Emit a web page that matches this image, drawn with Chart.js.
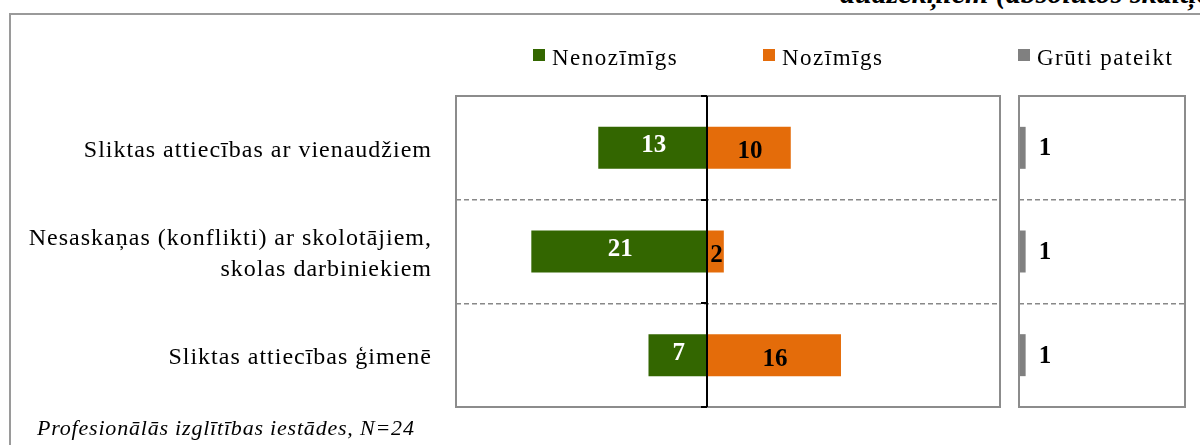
<!DOCTYPE html>
<html>
<head>
<meta charset="utf-8">
<script src="https://cdn.jsdelivr.net/npm/chart.js@4"></script>
<style>
  body { margin:0; width:1200px; height:445px; overflow:hidden; background:#fff; position:relative;
         font-family:"Liberation Serif","Times New Roman",serif; color:#000; }
  #frame { position:absolute; left:9px; top:13px; width:1300px; height:500px;
           border-top:2px solid #9a9a9a; border-left:2px solid #9a9a9a; }
  #title { position:absolute; left:840px; top:-24px; font:bold italic 30px "Liberation Serif"; white-space:nowrap; }
  .legbox { position:absolute; top:49px; width:12px; height:12px; }
  .legtxt { position:absolute; top:46px; font-size:23px; line-height:1; letter-spacing:1.5px; white-space:nowrap; }
  #note { position:absolute; left:37px; top:417px; font-style:italic; font-size:22px; line-height:1;
          letter-spacing:0.8px; white-space:nowrap; }
  #c1 { position:absolute; left:0; top:0; }
  #c2 { position:absolute; left:1005px; top:0; }
</style>
</head>
<body>
<div id="frame"></div>
<div id="title">audzēkņiem (absolūtos skaitļos)</div>
<canvas id="c1" width="1005" height="445"></canvas>
<canvas id="c2" width="195" height="445"></canvas>
<div id="legend"></div>
<div id="note">Profesionālās izglītības iestādes, N=24</div>
<script>
// data
const categories = [
  'Sliktas attiecības ar vienaudžiem',
  ['Nesaskaņas (konflikti) ar skolotājiem,', 'skolas darbiniekiem'],
  'Sliktas attiecības ģimenē'
];
const nenozimigs = [13, 21, 7];
const nozimigs = [10, 2, 16];
const gruti = [1, 1, 1];

const GREEN = '#336600', ORANGE = '#E46C0A', GREY = '#808080', LINE = '#8c8c8c';

// frame, zero line and value labels
const panelPlugin = {
  id: 'panel',
  beforeDraw(chart) {
    chart.ctx.letterSpacing = '1px';
  },
  afterDatasetsDraw(chart, args, opts) {
    const ctx = chart.ctx, a = chart.chartArea;
    ctx.save();
    ctx.strokeStyle = LINE;
    ctx.lineWidth = 2;
    ctx.strokeRect(a.left, a.top, a.right - a.left, a.bottom - a.top);
    if (opts.zero) {
      const x0 = Math.round(chart.scales.x.getPixelForValue(0));
      ctx.strokeStyle = '#000';
      ctx.lineWidth = 2;
      ctx.beginPath();
      ctx.moveTo(x0, a.top); ctx.lineTo(x0, a.bottom);
      const n = chart.data.labels.length;
      for (let i = 0; i <= n; i++) {
        const y = Math.round(chart.scales.y.getPixelForValue(i - 0.5));
        ctx.moveTo(x0 - 6, y); ctx.lineTo(x0, y);
      }
      ctx.stroke();
    }
    ctx.font = 'bold 25px "Liberation Serif"';
    ctx.letterSpacing = '0px';
    ctx.textBaseline = 'middle';
    chart.data.datasets.forEach((ds, i) => {
      chart.getDatasetMeta(i).data.forEach((bar, j) => {
        const v = Math.abs(ds.data[j]);
        ctx.fillStyle = ds.labelColor;
        if (ds.labelAtEnd) {
          ctx.textAlign = 'left';
          ctx.fillText(v, bar.x + 13, bar.y + 1);
        } else {
          ctx.textAlign = 'center';
          ctx.fillText(v, (bar.x + bar.base) / 2 + 1, bar.y + ds.labelDy);
        }
      });
    });
    ctx.restore();
  }
};

const main = new Chart(document.getElementById('c1'), {
  type: 'bar',
  data: {
    labels: categories,
    datasets: [
      { label: 'Nenozīmīgs', data: nenozimigs.map(v => -v), backgroundColor: GREEN,
        labelColor: '#fff', labelDy: -2 },
      { label: 'Nozīmīgs', data: nozimigs, backgroundColor: ORANGE,
        labelColor: '#000', labelDy: 4 }
    ]
  },
  options: {
    indexAxis: 'y',
    responsive: false,
    animation: false,
    layout: { padding: { top: 96, bottom: 38, left: 0, right: 5 } },
    datasets: { bar: { categoryPercentage: 1, barPercentage: 0.405 } },
    plugins: { legend: { display: false }, tooltip: { enabled: false }, panel: { zero: true } },
    scales: {
      x: { stacked: true, min: -30, max: 35, display: false },
      y: {
        stacked: true,
        grid: { offset: true, drawTicks: true, tickLength: 24, tickColor: 'rgba(0,0,0,0)',
                color: '#888', lineWidth: 1.5 },
        border: { display: false, dash: [5, 3] },
        ticks: { color: '#000', padding: 0, labelOffset: 3,
                 font: { family: 'Liberation Serif', size: 24, lineHeight: 1.3 } },
        afterFit(scale) { scale.width = 456; }
      }
    }
  },
  plugins: [panelPlugin]
});

const side = new Chart(document.getElementById('c2'), {
  type: 'bar',
  data: {
    labels: categories,
    datasets: [
      { label: 'Grūti pateikt', data: gruti, backgroundColor: GREY, labelColor: '#000', labelAtEnd: true }
    ]
  },
  options: {
    indexAxis: 'y',
    responsive: false,
    animation: false,
    layout: { padding: { top: 96, bottom: 38, left: 0, right: 15 } },
    datasets: { bar: { categoryPercentage: 1, barPercentage: 0.405 } },
    plugins: { legend: { display: false }, tooltip: { enabled: false }, panel: { zero: false } },
    scales: {
      x: { min: 0, max: 25, display: false },
      y: {
        grid: { offset: true, drawTicks: false, color: '#888', lineWidth: 1.5 },
        border: { display: false, dash: [5, 3] },
        ticks: { display: false },
        afterFit(scale) { scale.width = 14; }
      }
    }
  },
  plugins: [panelPlugin]
});

// legend from the datasets
const legendX = [533, 763, 1018];
const legendItems = main.data.datasets.concat(side.data.datasets);
const legend = document.getElementById('legend');
legendItems.forEach((ds, i) => {
  const box = document.createElement('div');
  box.className = 'legbox';
  box.style.left = legendX[i] + 'px';
  box.style.background = ds.backgroundColor;
  const txt = document.createElement('div');
  txt.className = 'legtxt';
  txt.style.left = (legendX[i] + 19) + 'px';
  txt.textContent = ds.label;
  legend.appendChild(box);
  legend.appendChild(txt);
});
</script>
</body>
</html>
